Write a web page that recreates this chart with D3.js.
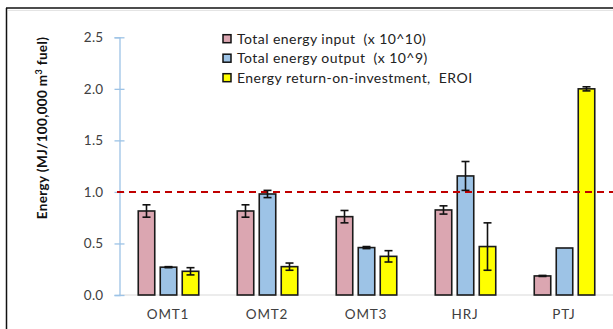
<!DOCTYPE html>
<html lang="en">
<head>
<meta charset="UTF-8">
<script src="https://d3js.org/d3.v7.min.js"></script>
<title>Energy EROI</title>
<style>
  body { margin: 0; background: #fff; }
  svg { display: block; font-family: Lato, "Open Sans", sans-serif; }
  .leg text { white-space: pre; }
</style>
</head>
<body>
<svg id="chart" width="613" height="329"></svg>
<script>
// data
const categories = ["OMT1", "OMT2", "OMT3", "HRJ", "PTJ"];
const seriesNames = ["Total energy input  (x 10^10)", "Total energy output  (x 10^9)", "Energy return-on-investment,  EROI"];
const inputVals  = [0.815, 0.815, 0.76, 0.825, 0.185];
const inputErr   = [0.06, 0.06, 0.06, 0.04, 0.005];
const outputVals = [0.27, 0.98, 0.46, 1.155, 0.456];
const outputErr  = [0.005, 0.035, 0.01, 0.14, 0];
const eroiVals   = [0.23, 0.275, 0.375, 0.47, 2.0];
const eroiErr    = [0.035, 0.035, 0.055, 0.23, 0.02];
const yTicks = [0, 0.5, 1.0, 1.5, 2.0, 2.5];
const refLine = 1.0;

const colors = ["#dba6b1", "#9dc3e6", "#ffff00"];

const svg = d3.select("#chart");

// frame (cropped on right/bottom in the original)
svg.append("line").attr("x1", 6.5).attr("x2", 6.5).attr("y1", 8).attr("y2", 329)
  .attr("stroke", "#111").attr("stroke-width", 1.5);
svg.append("line").attr("x1", 6).attr("x2", 613).attr("y1", 8).attr("y2", 8)
  .attr("stroke", "#111").attr("stroke-width", 1.5);
svg.append("line").attr("x1", 8).attr("x2", 613).attr("y1", 10.5).attr("y2", 10.5)
  .attr("stroke", "#e4e4e4").attr("stroke-width", 1);

const x = d3.scaleBand().domain(categories).range([119, 614]).padding(0);
const xs = d3.scaleBand().domain([0, 1, 2]).range([-33, 33]).padding(0);
const y = d3.scaleLinear().domain([0, 2.5]).range([295, 37.3]);

// baseline
svg.append("line").attr("x1", 119).attr("x2", 613)
  .attr("y1", y(0)).attr("y2", y(0))
  .attr("stroke", "#d9d9d9").attr("stroke-width", 1.2);

// y axis
const yAxis = svg.append("g")
  .attr("transform", "translate(119.5,0)")
  .call(d3.axisLeft(y).tickValues(yTicks).tickFormat(d3.format(".1f")).tickSize(5).tickPadding(11));
yAxis.select(".domain").attr("stroke", "#9dc3e6").attr("stroke-width", 1.3);
yAxis.selectAll(".tick line").attr("x1", -5).attr("x2", 5).attr("stroke", "#9dc3e6").attr("stroke-width", 1.3);
yAxis.selectAll(".tick text").attr("fill", "#404040").attr("font-size", 13.5)
  .attr("font-family", "Lato, sans-serif").attr("letter-spacing", 0.3);

// x labels
svg.append("g").selectAll("text").data(categories).join("text")
  .attr("x", d => x(d) + x.bandwidth() / 2 - 0.5)
  .attr("y", 319)
  .attr("text-anchor", "middle")
  .attr("fill", "#404040")
  .attr("font-size", 13.5)
  .attr("letter-spacing", 0.8)
  .text(d => d);

// y title
const yTitle = svg.append("text")
  .attr("transform", "translate(47,128) rotate(-90)")
  .attr("text-anchor", "middle")
  .attr("font-weight", "bold")
  .attr("font-size", 13.5)
  .attr("letter-spacing", 0.35)
  .attr("fill", "#111");
yTitle.append("tspan").text("Energy (MJ/100,000 m");
yTitle.append("tspan").attr("dy", -5).attr("font-size", 9).text("3");
yTitle.append("tspan").attr("dy", 5).text(" fuel)");

// bars
const series = [
  { vals: inputVals, err: inputErr },
  { vals: outputVals, err: outputErr },
  { vals: eroiVals, err: eroiErr }
];
const rows = [];
series.forEach((s, si) => {
  categories.forEach((c, ci) => {
    rows.push({ cat: c, s: si, v: s.vals[ci], e: s.err[ci] });
  });
});

const barW = 16.5;
const cx = d => x(d.cat) + x.bandwidth() / 2 + xs(d.s) + xs.bandwidth() / 2;

svg.append("g").selectAll("rect").data(rows).join("rect")
  .attr("x", d => cx(d) - barW / 2)
  .attr("y", d => y(d.v))
  .attr("width", barW)
  .attr("height", d => y(0) - y(d.v))
  .attr("fill", d => colors[d.s])
  .attr("stroke", "#1a1a1a")
  .attr("stroke-width", 1.6);

// reference line
svg.append("line")
  .attr("x1", 117).attr("x2", 613)
  .attr("y1", y(refLine)).attr("y2", y(refLine))
  .attr("stroke", "#c00000").attr("stroke-width", 2)
  .attr("stroke-dasharray", "7,5");

// error bars
const eb = svg.append("g").attr("stroke", "#111").attr("stroke-width", 1.6);
rows.filter(d => d.e > 0).forEach(d => {
  const c = cx(d);
  const hw = 4;
  eb.append("line").attr("x1", c).attr("x2", c).attr("y1", y(d.v + d.e)).attr("y2", y(d.v - d.e));
  eb.append("line").attr("x1", c - hw).attr("x2", c + hw).attr("y1", y(d.v + d.e)).attr("y2", y(d.v + d.e));
  eb.append("line").attr("x1", c - hw).attr("x2", c + hw).attr("y1", y(d.v - d.e)).attr("y2", y(d.v - d.e));
});

// legend
const legend = svg.append("g").attr("class", "leg").attr("transform", "translate(223,0)");
const legY = [38.7, 58.2, 77.7];
seriesNames.forEach((name, i) => {
  legend.append("rect")
    .attr("x", 0).attr("y", legY[i] - 4)
    .attr("width", 8).attr("height", 8)
    .attr("fill", colors[i]).attr("stroke", "#111").attr("stroke-width", 1.5);
  legend.append("text")
    .attr("x", 14).attr("y", legY[i] + 5)
    .attr("font-size", 14).attr("fill", "#222")
    .attr("letter-spacing", 0.45)
    .text(name);
});
</script>
</body>
</html>
